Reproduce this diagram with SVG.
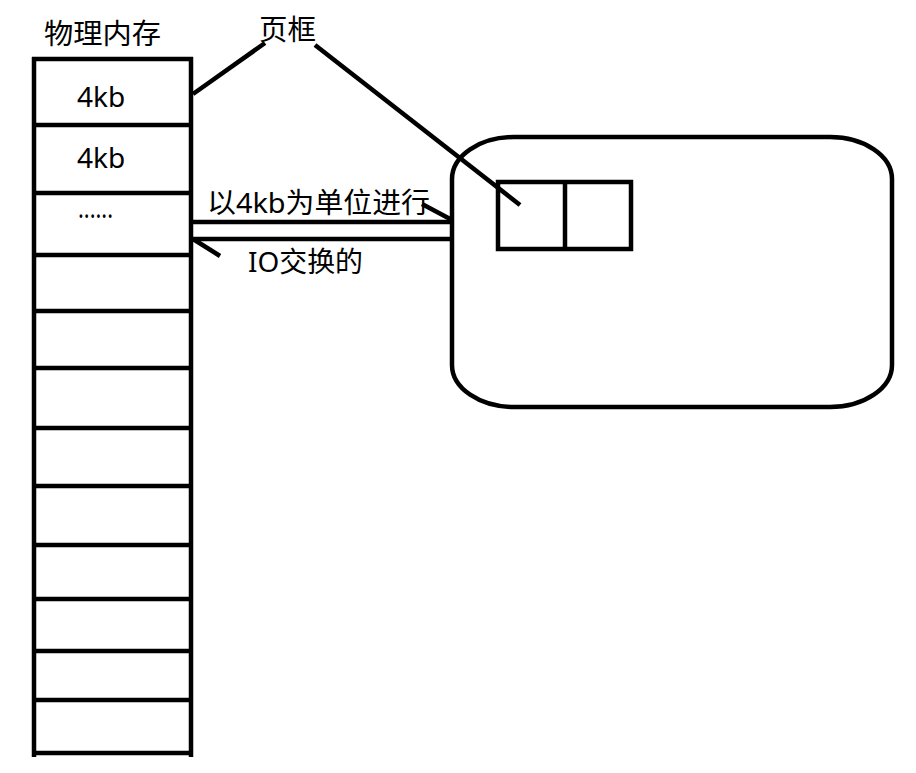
<svg xmlns="http://www.w3.org/2000/svg" width="916" height="773" viewBox="0 0 916 773">
  <style>
    .s { fill: none; stroke: #000; stroke-width: 4.5; stroke-linecap: butt; }
    .t { font-family: "Noto Sans", "Noto Sans CJK SC", sans-serif; font-size: 28px; fill: #000; }
  </style>
  <rect width="916" height="773" fill="#fff"/>
  <g id="memory">
    <text class="t" x="44" y="44" textLength="117" lengthAdjust="spacingAndGlyphs">物理内存</text>
    <path class="s" d="M34,57 V757 M191,57 V757 M32,59 H193 M32,125 H193 M32,193 H193 M32,255 H193 M32,311 H193 M32,368 H193 M32,428 H193 M32,486 H193 M32,545 H193 M32,599 H193 M32,651 H193 M32,700 H193 M32,753 H193"/>
    <text class="t" x="77" y="107">4kb</text>
    <text class="t" x="77" y="168">4kb</text>
    <text class="t" x="78" y="218" textLength="35" lengthAdjust="spacingAndGlyphs">......</text>
  </g>
  <g id="frame-label">
    <text class="t" x="259" y="40" textLength="57" lengthAdjust="spacingAndGlyphs">页框</text>
  </g>
  <g id="disk">
    <rect class="s" x="452" y="137" width="440" height="270" rx="62" ry="42"/>
    <rect class="s" x="498" y="182" width="133" height="67"/>
    <line class="s" x1="565" y1="182" x2="565" y2="249"/>
  </g>
  <g id="connectors">
    <line class="s" x1="193" y1="94" x2="265" y2="43"/>
    <line class="s" x1="315" y1="45" x2="520" y2="205"/>
    <line class="s" x1="193" y1="222" x2="452" y2="222"/>
    <line class="s" x1="193" y1="239" x2="452" y2="239"/>
    <line class="s" x1="193" y1="239" x2="220" y2="256"/>
    <line class="s" x1="422" y1="204" x2="452" y2="220"/>
  </g>
  <g id="labels">
    <text class="t" x="207" y="213" textLength="223" lengthAdjust="spacingAndGlyphs">以4kb为单位进行</text>
    <text class="t" x="248" y="272" textLength="115" lengthAdjust="spacingAndGlyphs">IO交换的</text>
  </g>
</svg>
